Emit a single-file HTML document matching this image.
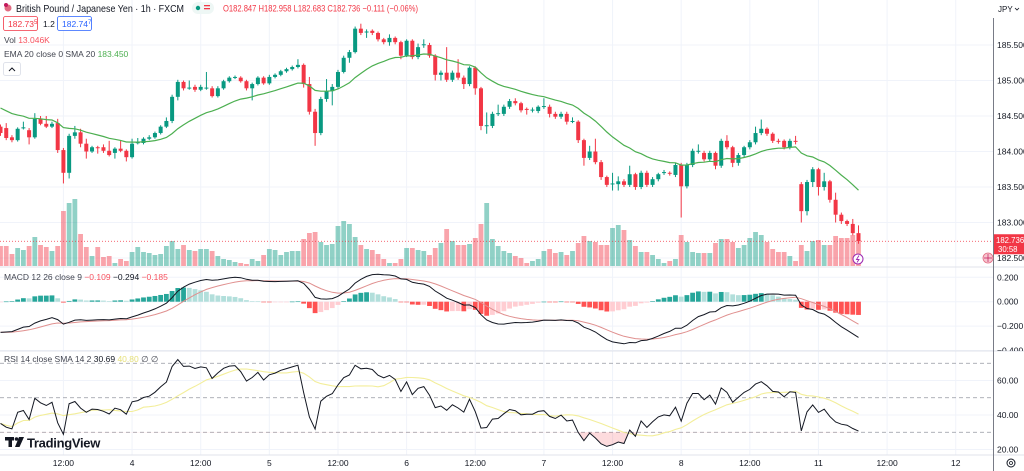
<!DOCTYPE html>
<html><head><meta charset="utf-8">
<style>
html,body{margin:0;padding:0;background:#fff;width:1024px;height:471px;overflow:hidden}
svg{display:block;font-family:"Liberation Sans",Arial,sans-serif}
</style></head>
<body>
<svg id="chart" width="1024" height="471" viewBox="0 0 1024 471" xmlns="http://www.w3.org/2000/svg">
<defs>
<clipPath id="plotClip"><rect x="0" y="0" width="993" height="455"/></clipPath>
<clipPath id="mainClip"><rect x="0" y="0" width="993" height="267"/></clipPath>
<clipPath id="macdClip"><rect x="0" y="267" width="993" height="84"/></clipPath>
<clipPath id="rsiClip"><rect x="0" y="351" width="993" height="104"/></clipPath>
<clipPath id="osClip"><rect x="0" y="432" width="993" height="23"/></clipPath>
<clipPath id="axisClip"><rect x="994" y="267" width="30" height="84"/></clipPath>
</defs>
<g id="grid"></g>
<g id="volume" clip-path="url(#mainClip)"></g>
<g id="candles" clip-path="url(#mainClip)"></g>
<g id="overlays"></g>
<g id="macd" clip-path="url(#macdClip)"></g>
<g id="rsi" clip-path="url(#rsiClip)"></g>
<g id="axes"></g>

<g>
  <circle cx="8" cy="8" r="3.5" fill="#e26b82"/>
  <circle cx="6" cy="5" r="2" fill="#c2185b"/>
  <text x="16" y="12" font-size="10.5" fill="#131722" textLength="168" lengthAdjust="spacingAndGlyphs">British Pound / Japanese Yen · 1h · FXCM</text>
  <rect x="192" y="2" width="22" height="12" rx="6" fill="#eef7f5"/>
  <circle cx="198" cy="8" r="2.2" fill="#089981"/>
  <rect x="204" y="5" width="6" height="1.3" fill="#f23645"/><rect x="204" y="8" width="6" height="1.3" fill="#f23645"/>
  <text x="223" y="11.5" font-size="9" fill="#f23645" textLength="195" lengthAdjust="spacingAndGlyphs">O182.847 H182.958 L182.683 C182.736 −0.111 (−0.06%)</text>
</g>
<g>
  <rect x="3.5" y="16.5" width="34" height="14" rx="2" fill="#fff" stroke="#f23645" stroke-width="0.8"/>
  <text x="8" y="27" font-size="8.5" fill="#f23645">182.73<tspan font-size="6" dy="-3">5</tspan></text>
  <text x="43" y="27" font-size="8.5" fill="#131722">1.2</text>
  <rect x="57.5" y="16.5" width="34" height="14" rx="2" fill="#fff" stroke="#2962ff" stroke-width="0.8"/>
  <text x="62" y="27" font-size="8.5" fill="#2962ff">182.74<tspan font-size="6" dy="-3">7</tspan></text>
</g>
<text x="4" y="43" font-size="8.5" fill="#434651">Vol <tspan fill="#f7525f">13.046K</tspan></text>
<text x="4" y="57" font-size="8.5" fill="#434651">EMA 20 close 0 SMA 20 <tspan fill="#4caf50">183.450</tspan></text>
<g>
  <rect x="3.5" y="62.5" width="17" height="13" rx="2" fill="#fff" stroke="#e0e3eb"/>
  <path d="M9 71 L12 68 L15 71" fill="none" stroke="#131722" stroke-width="1"/>
</g>
<text x="4" y="280" font-size="8.5" fill="#434651">MACD 12 26 close 9 <tspan fill="#f7525f">−0.109</tspan> <tspan fill="#131722">−0.294</tspan> <tspan fill="#f7525f">−0.185</tspan></text>
<text x="4" y="362" font-size="8.5" fill="#434651">RSI 14 close SMA 14 2 <tspan fill="#131722">30.69</tspan> <tspan fill="#e6e07a">40.80</tspan> ∅ ∅</text>

<g>
  <rect x="5" y="437" width="9" height="3.5" fill="#131722"/>
  <rect x="8.5" y="437" width="3.5" height="10" fill="#131722"/>
  <circle cx="16.5" cy="439" r="1.8" fill="#131722"/>
  <path d="M19 437 L24 437 L19.5 447 L15 447 Z" fill="#131722"/>
  <text x="27" y="447.5" font-size="13" font-weight="bold" fill="#131722" letter-spacing="-0.3">TradingView</text>
</g>
<g>
  <text x="998" y="12" font-size="8" fill="#131722">JPY</text>
  <path d="M1015 8 L1017 10 L1019 8" fill="none" stroke="#131722" stroke-width="0.8"/>
</g>
<g>
  <circle cx="1011" cy="463" r="4" fill="none" stroke="#131722" stroke-width="1"/>
  <circle cx="1011" cy="463" r="1.5" fill="none" stroke="#131722" stroke-width="0.8"/>
</g>
<g>
  <circle cx="988" cy="258" r="5" fill="#f7c6d0" stroke="#e26b82" stroke-width="0.8"/>
  <path d="M984 258 H992 M988 254 V262" stroke="#c2185b" stroke-width="0.7"/>
</g>
<g>
  <circle cx="858" cy="259" r="5" fill="#fff" stroke="#9c27b0" stroke-width="1"/>
  <path d="M859 255.5 L856.5 259.5 L859 259.5 L857 262.5" fill="none" stroke="#9c27b0" stroke-width="0.9"/>
</g>
</svg>
<script>
const opens=[184.35,184.33,184.20,184.16,184.33,184.30,184.20,184.46,184.39,184.35,184.40,184.02,183.70,184.22,184.27,184.11,184.00,184.06,184.06,184.01,183.98,184.04,184.01,183.92,184.12,184.12,184.18,184.20,184.26,184.35,184.43,184.77,184.98,184.89,184.91,184.87,184.89,184.89,184.78,184.89,184.99,185.04,185.04,184.99,184.89,184.95,185.04,184.96,185.05,185.08,185.13,185.16,185.19,185.22,184.95,184.56,184.26,184.74,184.85,184.91,185.12,185.32,185.40,185.73,185.68,185.70,185.67,185.58,185.54,185.60,185.54,185.35,185.56,185.33,185.50,185.50,185.35,185.08,185.11,185.01,185.11,185.04,184.95,185.18,184.89,184.36,184.36,184.53,184.53,184.63,184.71,184.68,184.60,184.58,184.57,184.63,184.63,184.53,184.49,184.53,184.42,184.42,184.16,183.91,184.00,183.85,183.64,183.54,183.54,183.58,183.53,183.68,183.50,183.70,183.53,183.61,183.70,183.70,183.67,183.81,183.51,183.81,184.00,183.98,183.89,183.98,183.80,184.15,184.06,183.84,183.95,184.06,184.13,184.26,184.32,184.25,184.15,184.15,184.06,184.15,183.54,183.16,183.57,183.75,183.50,183.58,183.32,183.11,183.02,182.98,182.85];
const closes=[184.26,184.19,184.16,184.32,184.34,184.20,184.46,184.39,184.35,184.39,184.02,183.70,184.22,184.27,184.11,184.00,184.06,184.05,184.01,183.95,184.04,184.01,183.92,184.11,184.13,184.18,184.20,184.26,184.35,184.43,184.77,184.98,184.89,184.90,184.87,184.91,184.90,184.78,184.89,184.99,185.04,185.05,184.99,184.89,184.95,185.04,184.96,185.05,185.08,185.13,185.16,185.19,185.22,184.95,184.56,184.26,184.74,184.85,184.91,185.12,185.32,185.40,185.73,185.67,185.69,185.67,185.58,185.54,185.60,185.54,185.35,185.56,185.33,185.47,185.51,185.35,185.08,185.11,185.01,185.11,185.04,184.95,185.18,184.89,184.36,184.37,184.53,184.54,184.63,184.71,184.68,184.58,184.59,184.59,184.63,184.64,184.53,184.49,184.53,184.42,184.43,184.16,183.91,184.00,183.85,183.64,183.53,183.55,183.58,183.53,183.68,183.50,183.70,183.53,183.61,183.68,183.71,183.69,183.81,183.51,183.81,184.01,184.01,183.89,183.98,183.80,184.15,184.06,183.84,183.95,184.06,184.13,184.26,184.32,184.25,184.15,184.14,184.06,184.15,184.14,183.16,183.57,183.75,183.50,183.58,183.32,183.11,183.02,182.98,182.85,182.74];
const highs=[184.38,184.40,184.23,184.34,184.42,184.33,184.54,184.50,184.50,184.42,184.46,184.05,184.25,184.36,184.32,184.18,184.08,184.08,184.10,184.15,184.06,184.16,184.03,184.18,184.19,184.20,184.23,184.28,184.37,184.48,184.80,185.01,185.00,185.00,184.94,184.94,185.12,184.92,184.92,185.01,185.06,185.07,185.06,185.01,184.97,185.06,185.06,185.08,185.10,185.15,185.18,185.21,185.30,185.24,185.05,184.60,184.77,185.02,184.95,185.15,185.35,185.43,185.76,185.80,185.72,185.72,185.69,185.60,185.65,185.62,185.56,185.58,185.58,185.52,185.58,185.53,185.37,185.14,185.47,185.14,185.30,185.07,185.20,185.20,184.91,184.55,184.56,184.66,184.66,184.74,184.75,184.70,184.62,184.62,184.65,184.75,184.66,184.56,184.56,184.56,184.48,184.44,184.18,184.08,184.18,183.88,183.66,183.70,183.65,183.61,183.80,183.70,183.73,183.73,183.64,183.70,183.74,183.72,183.84,183.84,183.84,184.04,184.10,184.01,184.01,184.00,184.18,184.23,184.08,183.98,184.08,184.16,184.35,184.45,184.34,184.27,184.18,184.17,184.18,184.22,183.57,183.60,183.78,183.77,183.70,183.60,183.42,183.14,183.04,183.05,182.96];
const lows=[184.22,184.16,184.13,184.14,184.31,184.10,184.18,184.37,184.33,184.33,183.98,183.55,183.62,184.18,184.06,183.90,183.98,183.97,183.98,183.93,183.90,183.99,183.86,183.90,184.10,184.10,184.16,184.18,184.24,184.33,184.40,184.72,184.86,184.87,184.84,184.85,184.87,184.76,184.76,184.87,184.97,185.02,184.97,184.86,184.72,184.93,184.94,184.94,185.03,185.06,185.11,185.14,185.17,184.90,184.52,184.08,184.23,184.70,184.65,184.88,185.10,185.25,185.38,185.64,185.60,185.64,185.55,185.51,185.49,185.51,185.30,185.33,185.30,185.30,185.46,185.32,185.00,185.00,184.98,184.98,185.01,184.88,184.92,184.80,184.30,184.25,184.33,184.50,184.50,184.60,184.65,184.55,184.52,184.55,184.54,184.60,184.48,184.46,184.46,184.38,184.40,184.12,183.80,183.88,183.82,183.60,183.50,183.45,183.45,183.50,183.50,183.46,183.47,183.50,183.50,183.58,183.67,183.66,183.64,183.07,183.48,183.78,183.97,183.86,183.86,183.75,183.77,184.03,183.78,183.80,183.92,184.03,184.10,184.23,184.22,184.12,184.11,184.03,184.03,184.10,183.00,183.10,183.50,183.38,183.45,183.28,183.00,182.98,182.95,182.82,182.70];
const volumes=[10,10,6,9,8,10,14.5,10.5,9.5,7.5,10,27.5,31.5,33.5,16,9.5,5,9.5,4.5,5,1.5,3.5,2.5,7,9.5,7,6.5,5.5,6,10,12.5,8.5,10.5,8,7.5,8.5,8.5,7.5,5,3.5,3,2,1.5,1,3.5,2.5,5.5,8.5,8,5.5,7,7.5,7.5,13.5,16.5,17,12,10.5,11,20,22.5,21,14.5,10.5,8.5,8,6,3.5,1.5,1.5,3.5,9,9,8,7.5,5.5,9,11.5,18.5,12.5,10.5,10.5,11,14,21,31.5,13.5,10,7.5,6.5,5,4,1.5,2.5,3.5,7.5,8.5,6.5,7,5.5,7.5,11.5,15,12.5,12,10.5,10.5,19,20.5,18,13,10,7,7,5.5,3.5,1.5,2.5,3.5,15.5,12,7,6.5,6.5,6.5,11.5,13.5,13.5,12,9,10.5,14,17,15.5,12,8.5,7,7,5,2.5,10.5,7.5,12.5,13,10.5,10.5,15,14,14,15.5,13];
const timeLabels=["12:00","4","12:00","5","12:00","6","12:00","7","12:00","8","12:00","11","12:00","12"];
const timeIdx=[11,23,35,47,59,71,83,95,107,119,131,143,155,167];
const priceTicks=[185.5,185.0,184.5,184.0,183.5,183.0,182.5];
const macdTicks=[0.2,0,-0.2,-0.4];
const rsiTicks=[60,40,20];
const rsiBands=[70,50,30];
const lastPrice=182.736;

const NS="http://www.w3.org/2000/svg";
const xB=i=>0.5+i*5.72;
const yP=p=>45+(185.5-p)*71;
const yV=v=>266-v*2;
const yM=v=>301.7-v*122;
const yR=v=>415-(v-40)*1.725;
function mk(tag,attrs,parent){const e=document.createElementNS(NS,tag);for(const k in attrs)e.setAttribute(k,attrs[k]);parent.appendChild(e);return e;}
const G=id=>document.getElementById(id);
const UP="#089981",DN="#f23645";

const grid=G('grid');
timeIdx.forEach(i=>{const l=mk('line',{x1:xB(i),x2:xB(i),y1:0,y2:455,stroke:'#f0f3fa','stroke-width':1},grid);

});
priceTicks.forEach(p=>{const l=mk('line',{x1:0,x2:993,y1:yP(p),y2:yP(p),stroke:'#f0f3fa'},grid);

});
macdTicks.forEach(v=>{const l=mk('line',{x1:0,x2:993,y1:yM(v),y2:yM(v),stroke:'#f0f3fa'},grid);

});
rsiTicks.forEach(v=>{const l=mk('line',{x1:0,x2:993,y1:yR(v),y2:yR(v),stroke:'#f0f3fa'},grid);

});

const vg=G('volume');
volumes.forEach((v,i)=>{const up=closes[i]>=opens[i];
const r=mk('rect',{x:xB(i)-2.4,y:yV(v),width:4.8,height:266-yV(v),fill:up?'rgba(8,153,129,0.45)':'rgba(242,54,69,0.45)'},vg);

});

const cg=G('candles');
closes.forEach((c,i)=>{const o=opens[i],up=c>=o,col=up?UP:DN;
const g=mk('g',{},cg);


mk('line',{x1:xB(i),x2:xB(i),y1:yP(highs[i]),y2:yP(lows[i]),stroke:col,'stroke-width':1},g);
const t=yP(Math.max(o,c)),b=yP(Math.min(o,c));
mk('rect',{x:xB(i)-2,y:t,width:4,height:Math.max(1,b-t),fill:col},g);});

const ov=G('overlays');
let ema=184.65;const emaArr=[];const k20=2/21;
closes.forEach(c=>{ema=c*k20+ema*(1-k20);emaArr.push(ema);});
let d=emaArr.map((v,i)=>(i?'L':'M')+xB(i).toFixed(1)+' '+yP(v).toFixed(1)).join(' ');
const emaLine=mk('path',{d:d,fill:'none',stroke:'#4caf50','stroke-width':1.2,'clip-path':'url(#mainClip)'},ov);


const pl=mk('line',{x1:0,x2:993,y1:yP(lastPrice),y2:yP(lastPrice),stroke:'#f23645','stroke-width':0.8,'stroke-dasharray':'1 2'},ov);



const mg=G('macd');
let e12=184.40,e26=184.66,sig=-0.25;const macdA=[],sigA=[];
closes.forEach(c=>{e12=c*2/13+e12*11/13;e26=c*2/27+e26*25/27;const m=e12-e26;sig=m*0.2+sig*0.8;macdA.push(m);sigA.push(sig);});
macdA.forEach((m,i)=>{const h=m-sigA[i];const ph=i?macdA[i-1]-sigA[i-1]:h;
let col=h>=0?(h>=ph?'#26a69a':'#b2dfdb'):(h<ph?'#ff5252':'#ffcdd2');
const y0=yM(0),y1=yM(h);
const r=mk('rect',{x:xB(i)-2.4,y:Math.min(y0,y1),width:4.8,height:Math.max(0.6,Math.abs(y1-y0)),fill:col},mg);

});
const sl=mk('path',{d:sigA.map((v,i)=>(i?'L':'M')+xB(i).toFixed(1)+' '+yM(v).toFixed(1)).join(' '),fill:'none',stroke:'#e0908f','stroke-width':1},mg);


const ml=mk('path',{d:macdA.map((v,i)=>(i?'L':'M')+xB(i).toFixed(1)+' '+yM(v).toFixed(1)).join(' '),fill:'none',stroke:'#131722','stroke-width':1},mg);



const rg=G('rsi');
rsiBands.forEach(v=>{const l=mk('line',{x1:0,x2:993,y1:yR(v),y2:yR(v),stroke:'#9598a1','stroke-width':0.8,'stroke-dasharray':'4 3'},rg);

});
let ag=0.03,al=0.05;const rsiA=[];
closes.forEach((c,i)=>{const ch=i?c-closes[i-1]:c-184.33;ag=(ag*13+Math.max(ch,0))/14;al=(al*13+Math.max(-ch,0))/14;rsiA.push(100-100/(1+ag/al));});
const rma=rsiA.map((v,i)=>{let s=0,n=0;for(let j=Math.max(0,i-13);j<=i;j++){s+=rsiA[j];n++;}return s/n;});
const rpts=rsiA.map((v,i)=>xB(i).toFixed(1)+' '+yR(v).toFixed(1));
const os=mk('path',{d:'M'+xB(0)+' '+yR(30)+' L'+rpts.join(' L')+' L'+xB(rsiA.length-1)+' '+yR(30)+' Z',fill:'rgba(242,54,69,0.18)','clip-path':'url(#osClip)'},rg);


const rm=mk('path',{d:rma.map((v,i)=>(i?'L':'M')+xB(i).toFixed(1)+' '+yR(v).toFixed(1)).join(' '),fill:'none',stroke:'#f3ee9a','stroke-width':1.1},rg);


const rl=mk('path',{d:'M'+rpts.join(' L'),fill:'none',stroke:'#131722','stroke-width':1},rg);



const ax=G('axes');
[267,351,455].forEach(yy=>{const l=mk('line',{x1:0,x2:1024,y1:yy,y2:yy,stroke:'#e0e3eb','stroke-width':1},ax);

});
const vax=mk('line',{x1:993.5,x2:993.5,y1:18,y2:471,stroke:'#787b86','stroke-width':1},ax);


priceTicks.forEach(p=>{const t=mk('text',{x:997,y:yP(p)+3,'font-size':8.5,fill:'#131722'},ax);t.textContent=p.toFixed(3);

});
macdTicks.forEach(v=>{const t=mk('text',{x:997,y:yM(v)+3,'font-size':8.5,fill:'#131722','clip-path':'url(#axisClip)'},ax);t.textContent=(v<0?'−':'')+Math.abs(v).toFixed(3);

});
rsiTicks.forEach(v=>{const t=mk('text',{x:997,y:yR(v)+3,'font-size':8.5,fill:'#131722'},ax);t.textContent=v.toFixed(2);

});
timeLabels.forEach((s,k)=>{const t=mk('text',{x:xB(timeIdx[k]),y:466,'font-size':8.5,fill:'#131722','text-anchor':'middle'},ax);t.textContent=s;

});
const lb=mk('g',{},ax);


const ly=yP(lastPrice);
mk('rect',{x:994,y:ly-7,width:30,height:20,fill:'#f23645'},lb);
const t1=mk('text',{x:996,y:ly+2,'font-size':7.8,fill:'#fff'},lb);t1.textContent=lastPrice.toFixed(3);
const t2=mk('text',{x:998,y:ly+11,'font-size':7.8,fill:'#fff'},lb);t2.textContent='30:58';
</script>
</body></html>
